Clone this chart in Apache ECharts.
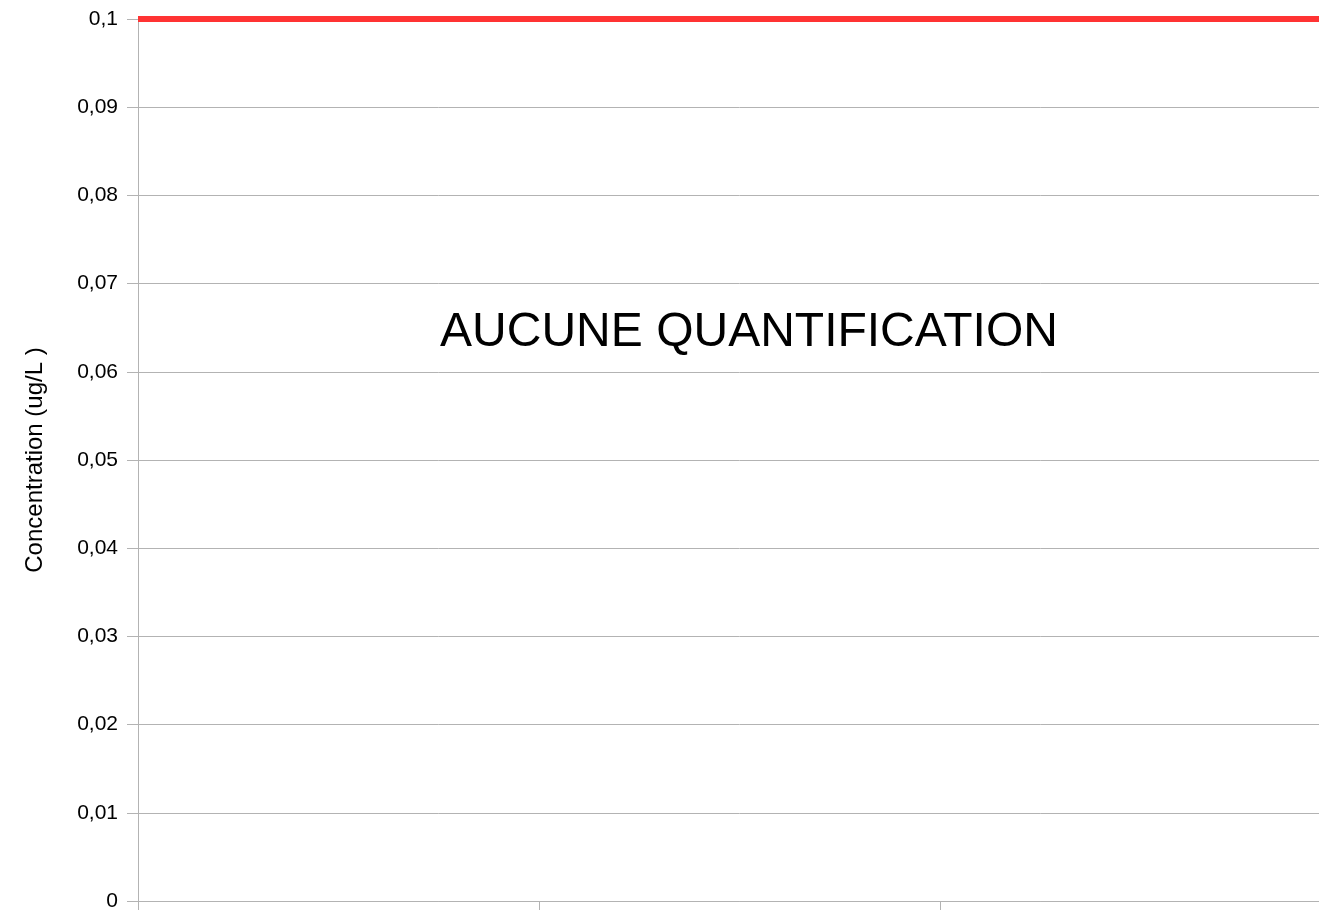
<!DOCTYPE html>
<html>
<head>
<meta charset="utf-8">
<script src="https://cdn.jsdelivr.net/npm/echarts@6/dist/echarts.min.js"></script>
<style>
  html, body { margin: 0; padding: 0; background: #fff; overflow: hidden; }
  /* the plot runs a little past the right edge of the window, like the original */
  #main { width: 1341px; height: 912px; }
</style>
</head>
<body>
<div id="main"></div>
<script>
// categories (no labels shown on the axis)
var categories = ['', '', ''];
// limit line (0,1 ug/L) across the whole width
var limitEnds = ['start', 'end'];
var limitValues = [0.1, 0.1];
var yTicks = { min: 0, max: 0.1, interval: 0.01 };
var noteText = 'AUCUNE QUANTIFICATION';

var chart = echarts.init(document.getElementById('main'));

function fmt(v) {//decimal comma
  return String(+v.toFixed(2)).replace('.', ',');
}

var option = {
  backgroundColor: '#ffffff',
  animation: false,
  textStyle: { fontFamily: 'Liberation Sans, Arial, sans-serif' },
  grid: { left: 138, right: 0, top: 19, bottom: 11, containLabel: false },
  xAxis: [{
    type: 'category',
    data: categories,
    boundaryGap: true,
    axisLine: { lineStyle: { color: '#b3b3b3', width: 1 } },
    axisTick: { show: true, length: 9, lineStyle: { color: '#b3b3b3' } },
    axisLabel: { show: false },
    splitLine: { show: false }
  }, {
    type: 'category',
    data: limitEnds,
    boundaryGap: false,
    show: false
  }],
  yAxis: {
    type: 'value',
    min: yTicks.min,
    max: yTicks.max,
    interval: yTicks.interval,
    name: 'Concentration (ug/L )',
    nameLocation: 'middle',
    nameGap: 91,
    nameTextStyle: { color: '#000', fontSize: 24, fontFamily: 'Liberation Sans' },
    axisLine: { show: true, lineStyle: { color: '#b3b3b3' } },
    axisTick: { show: true, length: 11, lineStyle: { color: '#b3b3b3' } },
    axisLabel: { color: '#000', fontSize: 21, margin: 20, formatter: fmt },
    splitLine: { lineStyle: { color: '#b3b3b3', width: 1 } }
  },
  series: [{
    type: 'line',
    xAxisIndex: 1,
    data: limitValues,
    symbol: 'none',
    lineStyle: { color: '#ff3333', width: 6 },
    z: 5
  }],
  graphic: [{
    type: 'text',
    x: 749,
    y: 333,
    style: {
      text: noteText,
      fill: '#000',
      font: '48px "Liberation Sans", Arial, sans-serif',
      textAlign: 'center',
      textVerticalAlign: 'middle'
    }
  }]
};
chart.setOption(option);
window.onresize = chart.resize;
</script>
</body>
</html>
